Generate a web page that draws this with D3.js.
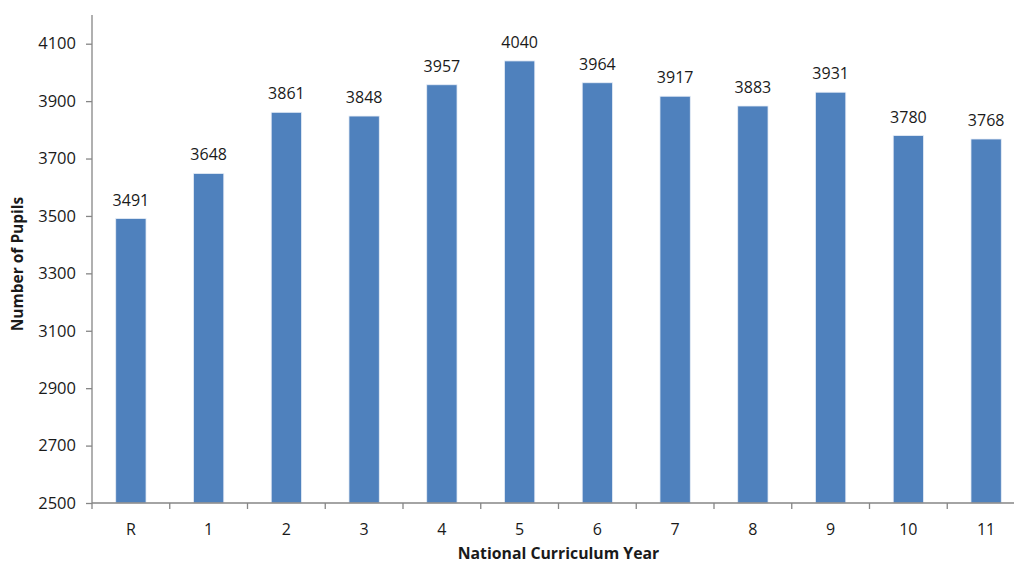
<!DOCTYPE html>
<html>
<head>
<meta charset="utf-8">
<script src="https://cdn.jsdelivr.net/npm/d3@7"></script>
<style>
  html, body { margin: 0; padding: 0; background: #fff; }
  svg { display: block; font-family: "Open Sans", "Liberation Sans", sans-serif; }
</style>
</head>
<body>
<svg id="chart" width="1014" height="566"></svg>
<script>
// Pupils by National Curriculum Year
const years = ["R", "1", "2", "3", "4", "5", "6", "7", "8", "9", "10", "11"];
const pupils = [3491, 3648, 3861, 3848, 3957, 4040, 3964, 3917, 3883, 3931, 3780, 3768];
const yTicks = [2500, 2700, 2900, 3100, 3300, 3500, 3700, 3900, 4100];
const yTitle = "Number of Pupils";
const xTitle = "National Curriculum Year";

const svg = d3.select("#chart");
const plot = { left: 92, right: 1025, top: 15, bottom: 503 };
const axisColor = "#868686";
const barColor = "#4F81BD";

const x = d3.scaleBand().domain(years).range([plot.left, plot.right]).paddingInner(0.61).paddingOuter(0.305);
const xEdges = d3.scaleBand().domain(years).range([plot.left, plot.right]).padding(0);
const y = d3.scaleLinear().domain([2500, 4200]).range([plot.bottom, plot.top]);

// bars
svg.append("g").selectAll("rect")
  .data(years)
  .join("rect")
  .attr("x", d => x(d))
  .attr("width", x.bandwidth())
  .attr("y", (d, i) => y(pupils[i]))
  .attr("height", (d, i) => y(2500) - y(pupils[i]))
  .attr("fill", barColor)
  .attr("stroke", "#e8eef7")
  .attr("stroke-width", 0.8);

// value labels
svg.append("g").selectAll("text")
  .data(years)
  .join("text")
  .attr("x", d => x(d) + x.bandwidth() / 2)
  .attr("y", (d, i) => y(pupils[i]) - 13)
  .attr("text-anchor", "middle")
  .attr("font-size", 16)
  .attr("fill", "#1a1a1a")
  .text((d, i) => pupils[i]);

// y axis
const yAxis = d3.axisLeft(y).tickValues(yTicks).tickSize(6).tickPadding(10).tickFormat(d3.format("d"));
const gy = svg.append("g").attr("transform", `translate(${plot.left},0)`).call(yAxis);
gy.select(".domain").attr("stroke", axisColor).attr("stroke-width", 1.3).attr("d", `M0,${plot.top}V${plot.bottom}`);
gy.selectAll(".tick line").attr("stroke", axisColor).attr("stroke-width", 1.3);
gy.selectAll(".tick text").attr("font-size", 16.5).attr("fill", "#1a1a1a").attr("font-family", "Open Sans");

// x axis: ticks at category boundaries
const gx = svg.append("g").attr("transform", `translate(0,${plot.bottom})`);
gx.append("line").attr("x1", plot.left).attr("x2", plot.right).attr("stroke", axisColor).attr("stroke-width", 1.3);
gx.selectAll("line.edge")
  .data(years)
  .join("line")
  .attr("class", "edge")
  .attr("x1", d => xEdges(d)).attr("x2", d => xEdges(d))
  .attr("y1", 0).attr("y2", 6)
  .attr("stroke", axisColor).attr("stroke-width", 1.3);
gx.selectAll("text")
  .data(years)
  .join("text")
  .attr("x", d => xEdges(d) + xEdges.bandwidth() / 2)
  .attr("y", 32)
  .attr("text-anchor", "middle")
  .attr("font-size", 16)
  .attr("fill", "#1a1a1a")
  .text(d => d);

// axis titles
svg.append("text")
  .attr("x", (plot.left + plot.right) / 2)
  .attr("y", 559)
  .attr("text-anchor", "middle")
  .attr("font-size", 15.8)
  .attr("font-weight", "bold")
  .attr("fill", "#1a1a1a")
  .text(xTitle);

svg.append("text")
  .attr("transform", `translate(23,${(plot.top + plot.bottom) / 2 + 5}) rotate(-90)`)
  .attr("text-anchor", "middle")
  .attr("font-size", 15.5)
  .attr("font-weight", "bold")
  .attr("fill", "#1a1a1a")
  .text(yTitle);
</script>
</body>
</html>
